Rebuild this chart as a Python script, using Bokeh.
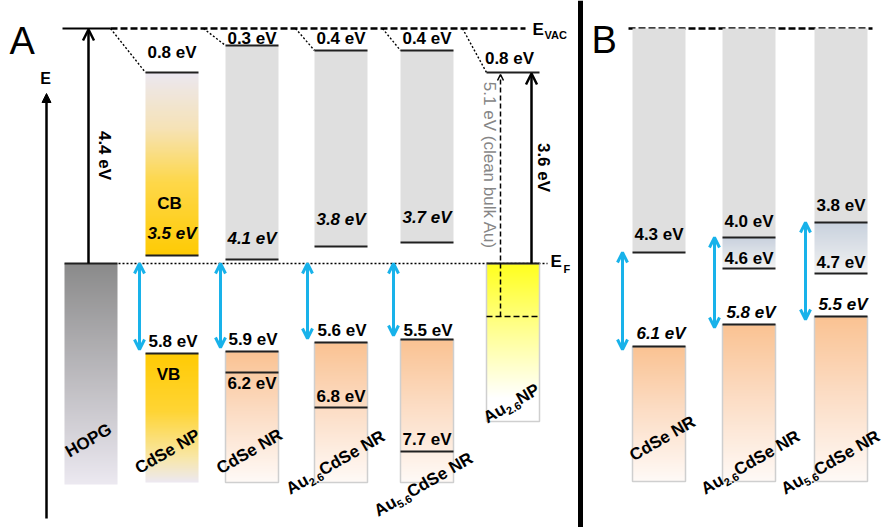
import math
import re
import numpy as np
from bokeh.plotting import figure
from bokeh.models import Range1d, Arrow, OpenHead, NormalHead, ColumnDataSource
from bokeh.core.properties import value
from bokeh.embed import file_html
from bokeh.resources import INLINE

# ---------------- data (energy labels) ----------------
hopg_wf = "4.4 eV"
au_wf = "3.6 eV"
au_bulk = "5.1 eV (clean bulk Au)"
au_shift = "0.8 eV"
names_A = ["HOPG", "CdSe NP", "CdSe NR", "Au_{2.6}CdSe NR", "Au_{5.6}CdSe NR", "Au_{2.6}NP"]
vac_shift_A = ["0.8 eV", "0.3 eV", "0.4 eV", "0.4 eV"]
cb_A = ["3.5 eV", "4.1 eV", "3.8 eV", "3.7 eV"]
vb_A = ["5.8 eV", "5.9 eV", "5.6 eV", "5.5 eV"]
deep_A = ["6.2 eV", "6.8 eV", "7.7 eV"]
names_B = ["CdSe NR", "Au_{2.6}CdSe NR", "Au_{5.6}CdSe NR"]
cb_B = ["4.3 eV", "4.0 eV", "3.8 eV"]
gap_B = ["4.6 eV", "4.7 eV"]
vb_B = ["6.1 eV", "5.8 eV", "5.5 eV"]

# ---------------- schematic level positions (diagram depth, 0 = top) ----------------
Y_VAC, Y_F = 28, 263
hopg_left, hopg_bottom = 64, 484
semi_left_A = [145, 225, 314, 400]
vac_y_A = [72, 45, 50, 50]
cb_y_A = [255, 259, 246, 242]
vb_y_A = [353, 351, 342, 339]
deep_y_A = [372, 407, 451]
bottom_A = 482
au_left, au_vac_y, au_core_y, au_bottom = 486, 72, 316, 421
semi_left_B = [632, 722, 814]
cb_y_B = [252, 237, 222]
gap_y_B = [268, 273]
vb_y_B = [346, 324, 316]
bottom_B = 481
BW = 53

# ---------------- layout (label placement) ----------------
vac_lab_y = [52, 38, 38, 38]
cb_lab_y = [233, 238, 219, 217]
vb_lab_y = [341, 339, 330, 330]
deep_lab_y = [383, 396, 439]
name_ctr_A = [(88, 440), (167, 451), (249, 451), (335, 462), (423, 484), (511, 403)]
cb_lab_y_B = [234, 221, 205]
gap_lab_y_B = [258, 262]
vb_lab_y_B = [333, 312, 304]
name_ctr_B = [(662, 438), (750, 462), (830, 462)]
slant_dx = [35, 22, 19, 18]

FONT = "Liberation Sans"
BLUE = "#18b2ea"
LVL = "#202020"
FS = "17px"

p = figure(width=886, height=527, x_range=Range1d(0, 886), y_range=Range1d(527, 0),
           output_backend="svg", toolbar_location=None, x_axis_type=None, y_axis_type=None,
           min_border=0)
p.grid.visible = False
p.outline_line_color = None
p.background_fill_color = "white"


def hex2rgb(h):
    h = h.lstrip("#")
    return [int(h[i:i + 2], 16) for i in (0, 2, 4)]


def grad(stops, n=200, m=2):
    t = np.linspace(0, 1, n)
    pos = [s[0] for s in stops]
    cols = np.array([hex2rgb(s[1]) for s in stops], dtype=float)
    img = np.empty((n, m), dtype=np.uint32)
    v = img.view(dtype=np.uint8).reshape((n, m, 4))
    for k in range(3):
        v[:, :, k] = np.interp(t, pos, cols[:, k])[:, None].astype(np.uint8)
    v[:, :, 3] = 255
    return img


HOPG_G = [(0, "#8b8b8b"), (1, "#ece9f1")]
NPCB_G = [(0, "#ece8f1"), (0.3, "#f6e3b8"), (0.6, "#fed84a"), (1, "#ffcb05")]
NPVB_G = [(0, "#ffcb05"), (0.45, "#ffd535"), (0.8, "#f9e7a5"), (1, "#ede9f1")]
PEACH_G = [(0, "#fac393"), (0.45, "#fcdcc3"), (1, "#fffaf7")]
AU_G = [(0, "#ffff1e"), (0.45, "#ffff99"), (0.85, "#ffffff"), (1, "#ffffff")]
GAP_G = [(0, "#c9d2de"), (1, "#f3f3f3")]
GRAY = "#dfdfdf"

imgs, ix, iy, ih = [], [], [], []


def add_img(stops, left, top, bottom):
    imgs.append(grad(stops))
    ix.append(left)
    iy.append(top)
    ih.append(bottom - top)


# ---- lines: vacuum & Fermi ----
p.segment(x0=[62], y0=[Y_VAC], x1=[110], y1=[Y_VAC], line_color="black", line_width=2)
p.segment(x0=[110, 628], y0=[Y_VAC, Y_VAC], x1=[525, 872], y1=[Y_VAC, Y_VAC],
          line_color="black", line_width=2.5, line_dash="7 3")
p.segment(x0=[118], y0=[Y_F], x1=[547], y1=[Y_F], line_color="black", line_width=1.5, line_dash="2 2")

# slanted dotted connectors
sx0 = [semi_left_A[i] - slant_dx[i] for i in range(4)] + [au_left - 24]
sx1 = semi_left_A + [au_left]
sy1 = vac_y_A + [au_vac_y]
p.segment(x0=sx0, y0=[Y_VAC] * 5, x1=sx1, y1=sy1, line_color="black", line_width=1.4, line_dash="2 2")

# ---- bars ----
add_img(HOPG_G, hopg_left, Y_F, hopg_bottom)
# panel A CB
add_img(NPCB_G, semi_left_A[0], vac_y_A[0], cb_y_A[0])
p.quad(left=semi_left_A[1:], right=[l + BW for l in semi_left_A[1:]], top=vac_y_A[1:], bottom=cb_y_A[1:],
       fill_color=GRAY, line_color=None)
# panel A VB
add_img(NPVB_G, semi_left_A[0], vb_y_A[0], bottom_A)
for i in range(1, 4):
    add_img(PEACH_G, semi_left_A[i], vb_y_A[i], bottom_A)
add_img(AU_G, au_left, Y_F, au_bottom)
# panel B
p.quad(left=semi_left_B, right=[l + BW for l in semi_left_B], top=[Y_VAC] * 3, bottom=cb_y_B,
       fill_color=GRAY, line_color=None)
for i in range(1, 3):
    add_img(GAP_G, semi_left_B[i], cb_y_B[i], gap_y_B[i - 1])
for i in range(3):
    add_img(PEACH_G, semi_left_B[i], vb_y_B[i], bottom_B)

p.image_rgba(image=imgs, x=ix, y=iy, dw=[BW] * len(imgs), dh=ih)

# borders of light bars
bl = semi_left_A[1:] + [au_left] + semi_left_B
bt = vb_y_A[1:] + [Y_F] + vb_y_B
bb = [bottom_A] * 3 + [au_bottom] + [bottom_B] * 3
p.quad(left=bl, right=[l + BW for l in bl], top=bt, bottom=bb, fill_color=None,
       line_color="#cfcfcf", line_width=1.5)

# ---- level lines ----
lx, ly = [], []
lx += [hopg_left]; ly += [Y_F]
lx += semi_left_A; ly += vac_y_A
lx += semi_left_A; ly += cb_y_A
lx += semi_left_A; ly += vb_y_A
lx += semi_left_A[1:]; ly += deep_y_A
lx += [au_left, au_left]; ly += [au_vac_y, Y_F]
lx += semi_left_B; ly += cb_y_B
lx += semi_left_B[1:]; ly += gap_y_B
lx += semi_left_B; ly += vb_y_B
p.segment(x0=lx, y0=ly, x1=[x + BW for x in lx], y1=ly, line_color=LVL, line_width=2.2)

# Au dashed core level
p.segment(x0=[au_left], y0=[au_core_y], x1=[au_left + BW], y1=[au_core_y], line_color="black",
          line_width=1.5, line_dash="6 3")

# ---- arrows ----
blue_src = ColumnDataSource(dict(
    xs=[139, 220, 307, 393, 622, 714, 805],
    ys=[Y_F] * 4 + cb_y_B,
    ye=[v - 4 for v in vb_y_A] + [v + 3 for v in vb_y_B]))
p.add_layout(Arrow(x_start="xs", y_start="ys", x_end="xs", y_end="ye", source=blue_src,
                   line_color=BLUE, line_width=3,
                   start=OpenHead(size=10, line_color=BLUE, line_width=3),
                   end=OpenHead(size=10, line_color=BLUE, line_width=3)))
blk_src = ColumnDataSource(dict(xs=[88, 531], ys=[Y_F, Y_F], ye=[Y_VAC + 1, au_vac_y + 1]))
p.add_layout(Arrow(x_start="xs", y_start="ys", x_end="xs", y_end="ye", source=blk_src,
                   line_color="black", line_width=2.5,
                   end=OpenHead(size=11, line_color="black", line_width=2.5)))
p.add_layout(Arrow(x_start=500, y_start=au_core_y, x_end=500, y_end=au_vac_y + 2,
                   line_color="black", line_width=1.5, line_dash="5 3",
                   end=OpenHead(size=6, line_color="black", line_width=1.5)))
p.add_layout(Arrow(x_start=46, y_start=518, x_end=46, y_end=93,
                   line_color="black", line_width=2.5,
                   end=NormalHead(size=9, fill_color="black", line_color="black", line_width=1)))

# divider
p.segment(x0=[580], y0=[0], x1=[580], y1=[530], line_color="black", line_width=5)


# ---- texts ----
def txt(xs, ys, texts, size=FS, style="bold", color="black", angle=0.0, align="center", baseline="middle"):
    p.text(x=xs, y=ys, text=texts, text_font=value(FONT), text_font_size=size, text_font_style=style,
           text_color=color, angle=angle, text_align=align, text_baseline=baseline)


ctrA = [l + BW / 2 for l in semi_left_A]
ctrB = [l + BW / 2 for l in semi_left_B]
txt(ctrA, vac_lab_y, vac_shift_A)
txt(ctrA, cb_lab_y, cb_A, style="bold italic")
txt([c + 1 for c in ctrA], vb_lab_y, vb_A)
txt(ctrA[1:], deep_lab_y, deep_A)
txt([169, 168], [203, 374], ["CB", "VB"])
txt([au_left + 23], [58], [au_shift])
txt(ctrB, cb_lab_y_B, cb_B)
txt(ctrB[1:], gap_lab_y_B, gap_B)
txt([c + 2 for c in ctrB], vb_lab_y_B, vb_B, style="bold italic")
txt([104, 543], [155, 167], [hopg_wf, au_wf], angle=-math.pi / 2)
txt([489], [165], [au_bulk], style="normal", color="#858585", angle=-math.pi / 2)
txt([45], [78], ["E"], size="16px")
txt([532, 550], [29, 261], ["E", "E"], align="left")
txt([544, 563], [34, 268], ["VAC", "F"], size="11px", align="left")
txt([9, 591], [40, 39], ["A", "B"], size="38px", style="normal", align="left")

# rotated category labels with subscripts
WID = {'A': 722, 'u': 611, '2': 556, '.': 278, '6': 556, '5': 556, 'C': 722, 'd': 611, 'S': 667,
       'e': 556, ' ': 278, 'N': 722, 'R': 722, 'P': 667, 'H': 722, 'O': 778, 'G': 778}
SIZE, SUB = 17, 11
ANG = math.radians(30)
rx, ry, rt, rsub = [], [], [], []


def place(name, cx, cy):
    parts = re.split(r"_\{([^}]*)\}", name)
    segs = [(t, k % 2 == 1) for k, t in enumerate(parts) if t]
    widths = [sum(WID.get(c, 600) for c in t) / 1000 * (SUB if s else SIZE) for t, s in segs]
    tot = sum(widths)
    d = (math.cos(ANG), -math.sin(ANG))
    n = (math.sin(ANG), math.cos(ANG))
    x0 = cx - tot / 2 * d[0]
    y0 = cy - tot / 2 * d[1]
    acc = 0
    for (t, s), w in zip(segs, widths):
        off = 5 if s else 0
        rx.append(x0 + acc * d[0] + off * n[0])
        ry.append(y0 + acc * d[1] + off * n[1])
        rt.append(t)
        rsub.append(s)
        acc += w


for nm, (cx, cy) in zip(names_A, name_ctr_A):
    place(nm, cx, cy)
for nm, (cx, cy) in zip(names_B, name_ctr_B):
    place(nm, cx, cy)

main = [k for k in range(len(rt)) if not rsub[k]]
subs = [k for k in range(len(rt)) if rsub[k]]
txt([rx[k] for k in main], [ry[k] for k in main], [rt[k] for k in main], size=f"{SIZE}px",
    angle=ANG, align="left")
txt([rx[k] for k in subs], [ry[k] for k in subs], [rt[k] for k in subs], size=f"{SUB}px",
    angle=ANG, align="left")

open("out.html", "w").write(file_html(p, INLINE))
